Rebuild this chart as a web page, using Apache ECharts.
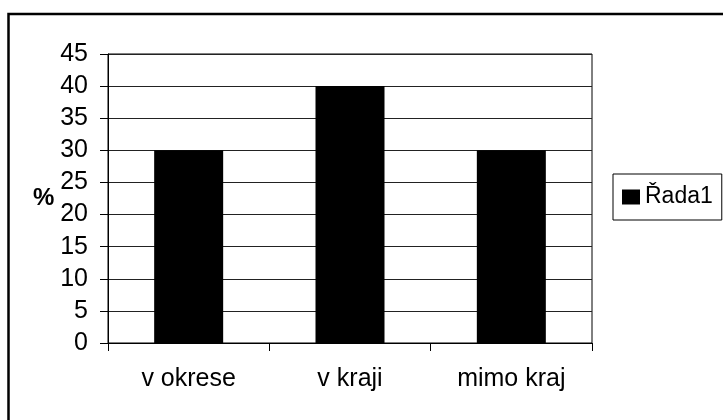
<!DOCTYPE html>
<html>
<head>
<meta charset="utf-8">
<script src="https://cdn.jsdelivr.net/npm/echarts@6/dist/echarts.min.js"></script>
<style>
  html, body { margin: 0; padding: 0; background: #fff; }
  #chart { width: 723px; height: 420px; }
</style>
</head>
<body>
<div id="chart"></div>
<script>
// Share of respondents by location (percent)
const categories = ['v okrese', 'v kraji', 'mimo kraj'];
const seriesName = 'Řada1';
const values = [30, 40, 30];
const yTicks = { min: 0, max: 45, step: 5 };

const font = '"Liberation Sans", Arial, sans-serif';
const chart = echarts.init(document.getElementById('chart'), null, { renderer: 'canvas' });

chart.setOption({
  animation: false,
  backgroundColor: '#fff',
  textStyle: { fontFamily: font, color: '#000' },
  grid: {
    left: 108, top: 54, right: 131, bottom: 77,
    show: true, borderColor: '#000', borderWidth: 1, backgroundColor: '#fff'
  },
  legend: {
    show: true,
    left: 613, top: 174,
    orient: 'vertical',
    padding: [11, 9, 11, 9],
    borderColor: '#000', borderWidth: 1,
    itemWidth: 18, itemHeight: 15,
    icon: 'rect',
    textStyle: { fontFamily: font, fontSize: 23, color: '#000', lineHeight: 24 },
    data: [seriesName]
  },
  xAxis: {
    type: 'category',
    data: categories,
    boundaryGap: true,
    axisLine: { lineStyle: { color: '#000', width: 1 } },
    axisTick: { show: true, inside: false, length: 8, alignWithLabel: false, lineStyle: { color: '#000' } },
    axisLabel: { margin: 24, fontSize: 25, color: '#000', fontFamily: font },
    splitLine: { show: false }
  },
  yAxis: {
    type: 'value',
    min: yTicks.min, max: yTicks.max, interval: yTicks.step,
    name: '%',
    nameLocation: 'middle',
    nameRotate: 0,
    nameGap: 53,
    nameTextStyle: { fontSize: 24, fontWeight: 'bold', color: '#000', fontFamily: font },
    axisLine: { show: true, lineStyle: { color: '#000', width: 1 } },
    axisTick: { show: true, inside: false, length: 8, lineStyle: { color: '#000' } },
    axisLabel: { margin: 20, fontSize: 25, color: '#000', fontFamily: font },
    splitLine: { show: true, lineStyle: { color: '#222', width: 1 } }
  },
  series: [{
    name: seriesName,
    type: 'bar',
    data: values,
    barWidth: 69,
    itemStyle: { color: '#000' }
  }],
  graphic: [{
    type: 'rect',
    shape: { x: 8.5, y: 14, width: 760, height: 460 },
    style: { fill: 'none', stroke: '#000', lineWidth: 2.5 },
    silent: true,
    z: 100
  }]
});
</script>
</body>
</html>
